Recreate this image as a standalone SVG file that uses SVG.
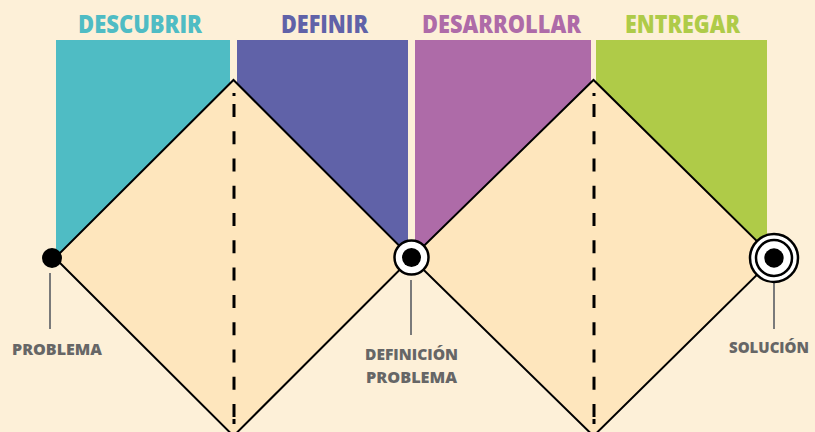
<svg xmlns="http://www.w3.org/2000/svg" width="815" height="432" viewBox="0 0 815 432">
  <style>
    .title { font-family: "Open Sans", "Liberation Sans", sans-serif; font-weight: 800; font-size: 24px; text-anchor: middle; }
    .label { font-family: "Open Sans", "Liberation Sans", sans-serif; font-weight: 800; font-size: 16.5px; fill: #666666; text-anchor: middle; }
    .diamond { fill: #fee6bd; stroke: #000000; stroke-width: 2; stroke-linejoin: miter; }
    .dash { stroke: #000000; stroke-width: 3; fill: none; }
    .leader { stroke: #7a7a7a; stroke-width: 2; }
  </style>
  <rect x="0" y="0" width="815" height="432" fill="#fdf0d8"/>

  <g id="phase-descubrir">
    <rect x="56" y="40" width="174" height="218" fill="#4fbcc4"/>
    <text class="title" x="140" y="33" fill="#4fbcc4" textLength="124" lengthAdjust="spacingAndGlyphs">DESCUBRIR</text>
  </g>
  <g id="phase-definir">
    <rect x="237" y="40" width="171" height="218" fill="#6062a8"/>
    <text class="title" x="324.5" y="33" fill="#6062a8" textLength="87" lengthAdjust="spacingAndGlyphs">DEFINIR</text>
  </g>
  <g id="phase-desarrollar">
    <rect x="415" y="40" width="176" height="218" fill="#ae6ba8"/>
    <text class="title" x="501.5" y="33" fill="#ae6ba8" textLength="159" lengthAdjust="spacingAndGlyphs">DESARROLLAR</text>
  </g>
  <g id="phase-entregar">
    <rect x="596" y="40" width="171" height="218" fill="#afcb48"/>
    <text class="title" x="682.5" y="33" fill="#afcb48" textLength="115" lengthAdjust="spacingAndGlyphs">ENTREGAR</text>
  </g>

  <g id="diamond-1">
    <polygon class="diamond" points="55,258 233.5,80 411.5,258 233.5,436"/>
  </g>
  <g id="diamond-2">
    <polygon class="diamond" points="411.5,258 593.5,80 774,258 593.5,436"/>
  </g>

  <g id="connectors">
    <line class="dash" x1="234" y1="93" x2="234" y2="96"/>
    <line class="dash" x1="234" y1="104" x2="234" y2="417" stroke-dasharray="13 14.27"/>
    <line class="dash" x1="234" y1="419" x2="234" y2="424"/>
    <line class="dash" x1="594" y1="93" x2="594" y2="96"/>
    <line class="dash" x1="594" y1="104" x2="594" y2="417" stroke-dasharray="13 14.27"/>
    <line class="dash" x1="594" y1="419" x2="594" y2="424"/>
    <line class="leader" x1="50" y1="273" x2="50" y2="329"/>
    <line class="leader" x1="411" y1="280" x2="411" y2="335"/>
    <line class="leader" x1="774" y1="283" x2="774" y2="329"/>
  </g>

  <g id="node-problema">
    <circle cx="52" cy="258" r="10" fill="#000000"/>
    <text class="label" x="57" y="355" textLength="90" lengthAdjust="spacingAndGlyphs">PROBLEMA</text>
  </g>
  <g id="node-definicion">
    <circle cx="411.5" cy="257.5" r="17" fill="#ffffff" stroke="#000000" stroke-width="2.5"/>
    <circle cx="411.5" cy="257.5" r="9.5" fill="#000000"/>
    <text class="label" x="411.5" y="360" textLength="93" lengthAdjust="spacingAndGlyphs">DEFINICIÓN</text>
    <text class="label" x="411.5" y="383" textLength="91" lengthAdjust="spacingAndGlyphs">PROBLEMA</text>
  </g>
  <g id="node-solucion">
    <circle cx="774" cy="258" r="24" fill="#ffffff" stroke="#000000" stroke-width="2.5"/>
    <circle cx="774" cy="258" r="18" fill="none" stroke="#000000" stroke-width="2.5"/>
    <circle cx="774" cy="258" r="9.7" fill="#000000"/>
    <text class="label" x="729" y="353" style="text-anchor:start" textLength="80" lengthAdjust="spacingAndGlyphs">SOLUCIÓN</text>
  </g>
</svg>
